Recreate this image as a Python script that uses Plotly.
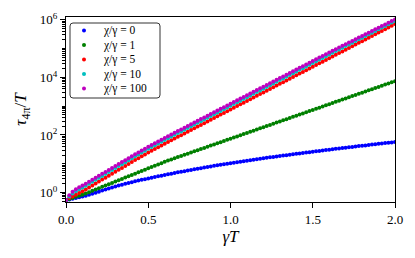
import numpy as np
import plotly.graph_objects as go

gamma_T = np.linspace(0, 2, 101)

tau_chi0 = [0.550, 0.575, 0.610, 0.646, 0.684, 0.724, 0.776, 0.841, 0.912, 0.989,
            1.072, 1.164, 1.265, 1.374, 1.493, 1.622, 1.746, 1.875, 2.009, 2.148,
            2.291, 2.438, 2.588, 2.748, 2.917, 3.090, 3.266, 3.451, 3.648, 3.855,
            4.074, 4.295, 4.519, 4.764, 5.012, 5.272, 5.534, 5.808, 6.095, 6.397,
            6.714, 7.031, 7.362, 7.709, 8.072, 8.453, 8.831, 9.204, 9.616, 10.02,
            10.47, 10.89, 11.35, 11.80, 12.30, 12.79, 13.30, 13.80, 14.35, 14.89,
            15.49, 16.07, 16.67, 17.26, 17.90, 18.58, 19.23, 19.91, 20.65, 21.38,
            22.13, 22.91, 23.66, 24.49, 25.29, 26.18, 27.04, 27.92, 28.91, 29.85,
            30.83, 31.84, 32.88, 33.96, 34.99, 36.14, 37.24, 38.46, 39.63, 40.93,
            42.17, 43.45, 44.77, 46.24, 47.64, 49.09, 50.58, 52.12, 53.58, 55.21,
            56.89]

tau_chi1 = [0.550, 0.597, 0.649, 0.705, 0.766, 0.832, 0.925, 1.028, 1.143, 1.271,
            1.413, 1.570, 1.746, 1.941, 2.158, 2.399, 2.667, 2.965, 3.296, 3.664,
            4.074, 4.529, 5.035, 5.598, 6.223, 6.918, 7.656, 8.472, 9.376, 10.38,
            11.61, 12.88, 14.13, 15.49, 16.98, 18.62, 20.42, 22.39, 24.55, 26.92,
            29.51, 32.36, 35.48, 38.90, 42.66, 46.77, 51.29, 56.23, 61.66, 67.61,
            74.13, 81.28, 89.13, 97.72, 107.2, 117.5, 128.8, 141.3, 154.9, 169.8,
            186.2, 204.2, 223.9, 245.5, 269.2, 295.1, 323.6, 354.8, 389.0, 426.6,
            467.7, 512.9, 562.3, 616.6, 676.1, 741.3, 812.8, 891.3, 977.2, 1072,
            1175, 1288, 1413, 1549, 1698, 1862, 2042, 2239, 2455, 2692,
            2951, 3236, 3548, 3890, 4266, 4677, 5129, 5623, 6166, 6761,
            7413]

tau_chi5 = [0.550, 0.638, 0.733, 0.841, 0.959, 1.096, 1.282, 1.500, 1.754, 2.051,
            2.399, 2.805, 3.281, 3.837, 4.487, 5.248, 6.138, 7.178, 8.395, 9.817,
            11.48, 13.37, 15.56, 18.11, 21.09, 24.55, 28.31, 32.58, 37.50, 43.05,
            49.43, 57.07, 65.44, 75.04, 86.04, 98.63, 113.1, 129.7, 148.7, 170.5,
            195.4, 224.1, 256.9, 294.6, 337.8, 387.3, 444.1, 509.2, 583.9, 669.5,
            767.4, 879.8, 1009, 1157, 1326, 1521, 1744, 1999, 2292, 2628,
            3013, 3455, 3961, 4542, 5208, 5970, 6846, 7850, 9000, 10320,
            11830, 13570, 15550, 17840, 20450, 23440, 26880, 30820, 35340, 40520,
            46450, 53270, 61080, 70030, 80300, 92060, 105500, 121000, 138800, 159100,
            182400, 209200, 239800, 275000, 315300, 361400, 414500, 475200, 544800, 624700,
            716100]

tau_chi10 = [0.550, 0.733, 0.923, 1.109, 1.294, 1.479, 1.729, 2.024, 2.366, 2.767,
             3.236, 3.784, 4.426, 5.176, 6.053, 7.080, 8.280, 9.683, 11.32, 13.24,
             15.49, 18.04, 20.99, 24.43, 28.45, 33.12, 38.19, 43.95, 50.59, 58.07,
             66.68, 76.99, 88.28, 101.2, 116.1, 133.1, 152.6, 175.0, 200.6, 230.0,
             263.6, 302.3, 346.6, 397.4, 455.7, 522.5, 599.1, 686.9, 787.7, 903.2,
             1035, 1187, 1361, 1561, 1789, 2052, 2353, 2697, 3092, 3545,
             4065, 4661, 5343, 6127, 7026, 8054, 9235, 10590, 12140, 13920,
             15960, 18310, 20980, 24070, 27590, 31620, 36260, 41580, 47670, 54660,
             62660, 71700, 82030, 93840, 107400, 122800, 140400, 160700, 183900, 210300,
             240600, 275300, 314900, 360300, 412100, 471300, 539300, 616800, 705500, 807100,
             923000]

tau_chi100 = [0.550, 0.804, 1.059, 1.303, 1.521, 1.737, 2.032, 2.378, 2.780, 3.251,
              3.802, 4.446, 5.200, 6.082, 7.112, 8.318, 9.729, 11.38, 13.31, 15.56,
              18.20, 21.19, 24.66, 28.70, 33.43, 38.91, 44.87, 51.64, 59.44, 68.23,
              78.35, 90.45, 103.7, 118.9, 136.4, 156.3, 179.3, 205.6, 235.7, 270.2,
              309.7, 355.2, 407.2, 466.9, 535.4, 613.9, 703.9, 807.1, 925.5, 1061,
              1216, 1394, 1599, 1834, 2102, 2411, 2764, 3168, 3633, 4165,
              4776, 5476, 6278, 7199, 8255, 9462, 10850, 12440, 14270, 16360,
              18750, 21510, 24650, 28280, 32410, 37150, 42600, 48850, 56010, 64220,
              73620, 84060, 95900, 109500, 124900, 142600, 162700, 185700, 212100, 242000,
              276200, 315300, 359700, 410600, 468500, 534500, 610100, 696600, 794900, 907100,
              1034800]

series_labels = ["χ/γ = 0", "χ/γ = 1", "χ/γ = 5", "χ/γ = 10", "χ/γ = 100"]
series_values = [tau_chi0, tau_chi1, tau_chi5, tau_chi10, tau_chi100]
series_colors = ["#0000ff", "#008000", "#ff0000", "#00bfbf", "#bf00bf"]

x_tick_vals = [0.0, 0.5, 1.0, 1.5, 2.0]
x_tick_text = ["0.0", "0.5", "1.0", "1.5", "2.0"]
y_major_vals = [1, 100, 1e4, 1e6]
y_major_text = ["10<sup>0</sup>", "10<sup>2</sup>", "10<sup>4</sup>", "10<sup>6</sup>"]

FONT = "Liberation Serif"

# plot area in pixels
W, H = 415, 258
L, R, T, B = 66, 20, 17, 56
PW, PH = W - L - R, H - T - B


def px_to_paper(px, py):
    return (px - L) / PW, (H - B - py) / PH


fig = go.Figure()
for lab, vals, col in zip(series_labels, series_values, series_colors):
    fig.add_trace(go.Scatter(
        x=gamma_T, y=vals, mode="markers", name=lab, showlegend=False,
        marker=dict(color=col, size=4, line=dict(width=0)),
    ))

# hand-built legend (matplotlib style, compact rows, rounded frame)
shapes = []
annotations = []
x0, y0 = px_to_paper(70, 98)
x1, y1 = px_to_paper(160, 23)
rx, ry = 3 / PW, 3 / PH
frame_path = (f"M {x0 + rx},{y0} L {x1 - rx},{y0} Q {x1},{y0} {x1},{y0 + ry} "
              f"L {x1},{y1 - ry} Q {x1},{y1} {x1 - rx},{y1} "
              f"L {x0 + rx},{y1} Q {x0},{y1} {x0},{y1 - ry} "
              f"L {x0},{y0 + ry} Q {x0},{y0} {x0 + rx},{y0} Z")
shapes.append(dict(type="path", xref="paper", yref="paper", path=frame_path,
                   line=dict(color="#333333", width=1), fillcolor="white", layer="above"))
row_y = [30.5, 45.0, 59.5, 74.0, 88.5]
for lab, col, rwy in zip(series_labels, series_colors, row_y):
    mx, my = px_to_paper(84, rwy)
    shapes.append(dict(type="circle", xref="paper", yref="paper",
                       xsizemode="pixel", ysizemode="pixel", xanchor=mx, yanchor=my,
                       x0=-2, x1=2, y0=-2, y1=2, fillcolor=col, line=dict(width=0), layer="above"))
    tx, ty = px_to_paper(101, rwy)
    annotations.append(dict(text=lab, xref="paper", yref="paper", x=tx, y=ty,
                            xanchor="left", yanchor="middle", showarrow=False,
                            font=dict(family=FONT, size=11.5, color="black")))

minor_vals = [m * 10 ** d for d in range(-1, 7) for m in range(1, 10)
              if not (m == 1 and d % 2 == 0)]

fig.update_layout(
    width=W, height=H,
    margin=dict(l=L, r=R, t=T, b=B, autoexpand=False),
    paper_bgcolor="white", plot_bgcolor="white",
    font=dict(family=FONT, size=13, color="black"),
    showlegend=False,
    shapes=shapes, annotations=annotations,
    xaxis=dict(
        range=[0, 2], tickvals=x_tick_vals, ticktext=x_tick_text,
        ticks="outside", ticklen=5, tickwidth=1, tickcolor="black",
        showline=True, linecolor="black", linewidth=1, mirror=True,
        showgrid=False, zeroline=False, automargin=False,
        title=dict(text="<i>γT</i>", font=dict(family=FONT, size=17), standoff=4),
        tickfont=dict(family=FONT, size=13),
    ),
    yaxis=dict(
        type="log", range=[-0.33, 6.10],
        tickvals=y_major_vals, ticktext=y_major_text,
        ticks="outside", ticklen=5, tickwidth=1, tickcolor="black",
        minor=dict(tickvals=minor_vals, ticks="outside", ticklen=3, tickcolor="black", tickwidth=0.8),
        showline=True, linecolor="black", linewidth=1, mirror=True,
        showgrid=False, zeroline=False, automargin=False,
        title=dict(text="<i>τ</i><sub>4π</sub>/<i>T</i>", font=dict(family=FONT, size=17), standoff=8),
        tickfont=dict(family=FONT, size=13),
    ),
)

fig.write_html("out.html", config={"displayModeBar": False},
               post_script="document.body.style.margin='0';")
